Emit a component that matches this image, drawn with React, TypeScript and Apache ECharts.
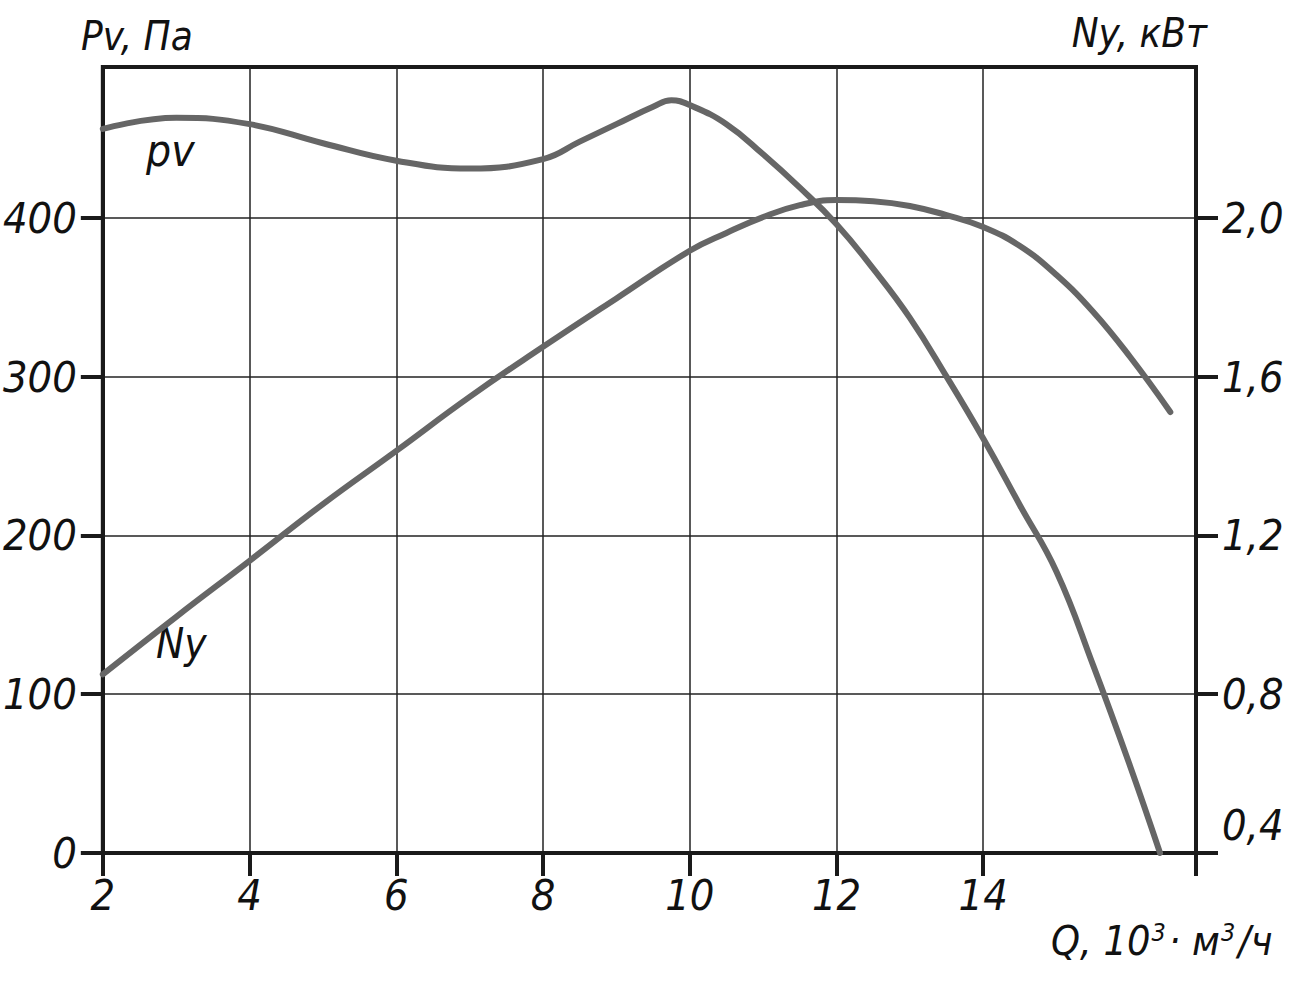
import React, { useEffect, useRef } from 'react';
import * as echarts from 'echarts';

// Q, 10^3 m^3/h  (x)  and Pv, Pa (left axis)
const pvFlow = [2, 3, 4, 5, 6, 7, 8, 8.5, 9, 9.5, 9.75, 10, 10.5, 11, 11.5, 12, 12.5, 13, 13.5, 14, 14.5, 15, 15.5, 16, 16.41];
const pvValues = [456, 463, 459, 447, 436, 431, 437, 448, 459, 470, 474, 471, 459, 440, 419, 396, 368, 337, 300, 261, 219, 177, 118, 55, 0];

// Ny, kW (right axis)
const nyFlow = [2, 3, 4, 5, 6, 7, 8, 9, 10, 10.5, 11, 11.5, 12, 12.5, 13, 13.5, 14, 14.5, 15, 15.5, 16, 16.55];
const nyValues = [0.85, 0.995, 1.136, 1.279, 1.413, 1.549, 1.675, 1.797, 1.917, 1.962, 2.002, 2.032, 2.045, 2.042, 2.03, 2.007, 1.977, 1.929, 1.856, 1.763, 1.65, 1.511];

const xLabels = [2, 4, 6, 8, 10, 12, 14];
const pvTicks = [0, 100, 200, 300, 400];
const nyTicks = [0.4, 0.8, 1.2, 1.6, 2.0];

const FONT = "'Liberation Sans Narrow', 'DejaVu Sans Condensed', 'Liberation Sans', sans-serif";
const INK = '#111';
const FRAME = '#1a1a1a';
const CURVE = '#666666';

const txt = (size: number) => ({
  fontFamily: FONT,
  fontStyle: 'italic' as const,
  fontWeight: 'normal' as const,
  fontSize: size,
  color: INK,
});

export default function App() {
  const ref = useRef<HTMLDivElement>(null);

  useEffect(() => {
    if (!ref.current) return;
    const chart = echarts.init(ref.current, undefined, { renderer: 'svg' });
    const xMax = 16.9;
    const pvMax = 495;
    const nyMin = 0.4;
    const nyMax = nyMin + pvMax * 0.004;

    const option: any = {
      animation: false,
      backgroundColor: '#ffffff',
      title: [
        { text: 'Pv, Па', left: 76, top: 11, textStyle: txt(40) },
        { text: 'Ny, кВт', right: 78, top: 8, textStyle: txt(40) },
        {
          text: 'Q, 10{sup|3}· м{sup|3}/ч',
          left: 1046,
          top: 915,
          textStyle: {
            ...txt(41),
            rich: {
              sup: { ...txt(25), verticalAlign: 'top', padding: [0, 3, 14, 1] },
            },
          },
        },
      ],
      grid: {
        left: 100,
        right: 94,
        top: 67,
        bottom: 131,
        show: true,
        borderColor: FRAME,
        borderWidth: 4,
        backgroundColor: 'transparent',
      },
      xAxis: {
        type: 'value',
        min: 2,
        max: xMax,
        interval: 2,
        axisLine: { show: true, lineStyle: { color: FRAME, width: 4 } },
        axisTick: {
          show: true,
          inside: false,
          length: 23,
          customValues: [...xLabels, xMax],
          lineStyle: { color: FRAME, width: 4 },
        },
        axisLabel: {
          customValues: xLabels,
          margin: 20,
          ...txt(43),
          formatter: (v: number) => String(v),
        },
        splitLine: { show: true, lineStyle: { color: '#222', width: 1.5 } },
      },
      yAxis: [
        {
          type: 'value',
          position: 'left',
          min: 0,
          max: pvMax,
          interval: 100,
          axisLine: { show: true, lineStyle: { color: FRAME, width: 4 } },
          axisTick: {
            show: true,
            inside: false,
            length: 22,
            customValues: pvTicks,
            lineStyle: { color: FRAME, width: 4 },
          },
          axisLabel: {
            customValues: pvTicks,
            margin: 26,
            ...txt(43),
            formatter: (v: number) => String(v),
          },
          splitLine: { show: true, lineStyle: { color: '#222', width: 1.5 } },
        },
        {
          type: 'value',
          position: 'right',
          min: nyMin,
          max: nyMax,
          interval: 0.4,
          axisLine: { show: true, lineStyle: { color: FRAME, width: 4 } },
          axisTick: {
            show: true,
            inside: false,
            length: 22,
            customValues: nyTicks,
            lineStyle: { color: FRAME, width: 4 },
          },
          axisLabel: {
            customValues: nyTicks,
            margin: 26,
            ...txt(43),
            formatter: (v: number) => {
              const s = v.toFixed(1).replace('.', ',');
              return Math.abs(v - 0.4) < 1e-6 ? '{low|' + s + '}' : s;
            },
            rich: {
              low: { ...txt(43), padding: [0, 0, 56, 0] },
            },
          },
          splitLine: { show: false },
        },
      ],
      series: [
        {
          name: 'pv',
          type: 'line',
          yAxisIndex: 0,
          data: pvFlow.map((q, i) => [q, pvValues[i]]),
          smooth: 0.45,
          showSymbol: false,
          symbol: 'none',
          silent: true,
          lineStyle: { color: CURVE, width: 6, cap: 'round', join: 'round' },
          z: 5,
        },
        {
          name: 'Ny',
          type: 'line',
          yAxisIndex: 1,
          data: nyFlow.map((q, i) => [q, nyValues[i]]),
          smooth: 0.45,
          showSymbol: false,
          symbol: 'none',
          silent: true,
          lineStyle: { color: CURVE, width: 6, cap: 'round', join: 'round' },
          z: 5,
        },
      ],
      graphic: [
        {
          type: 'text',
          left: 146,
          top: 128,
          style: { text: 'pv', font: `italic 44px ${FONT}`, fill: INK },
        },
        {
          type: 'text',
          left: 156,
          top: 622,
          style: { text: 'Ny', font: `italic 42px ${FONT}`, fill: INK },
        },
      ],
    };

    chart.setOption(option);
    return () => chart.dispose();
  }, []);

  return (
    <div
      ref={ref}
      style={{ position: 'fixed', left: 0, top: 0, width: 1290, height: 984, background: '#fff' }}
    />
  );
}
